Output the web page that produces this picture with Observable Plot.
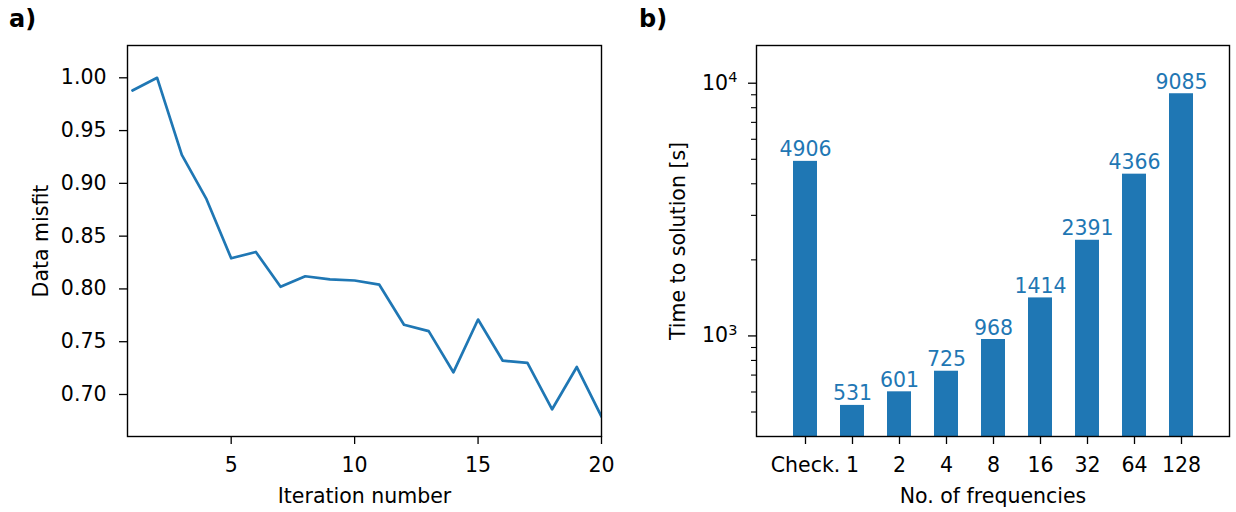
<!DOCTYPE html>
<html><head><meta charset="utf-8">
<script src="https://cdn.jsdelivr.net/npm/d3@7"></script>
<script src="https://cdn.jsdelivr.net/npm/@observablehq/plot@0.6"></script>
<style>
html,body{margin:0;padding:0;background:#fff;}
#wrap{position:relative;width:1236px;height:512px;overflow:hidden;font-family:"DejaVu Sans";}
.panel{position:absolute;top:0;}
.tag{position:absolute;font-family:"DejaVu Sans";font-weight:bold;font-size:24px;line-height:1;color:#000;}
</style></head><body>
<div id="wrap">
  <div id="left" class="panel" style="left:0px"></div>
  <div id="right" class="panel" style="left:620px"></div>
  <div class="tag" style="left:9px;top:7px">a)</div>
  <div class="tag" style="left:639px;top:7px">b)</div>
</div>
<script>
// ---- Panel a) data ----
const iterations = [1,2,3,4,5,6,7,8,9,10,11,12,13,14,15,16,17,18,19,20];
const misfit = [0.988,1.000,0.927,0.885,0.829,0.835,0.802,0.812,0.809,0.808,0.804,0.766,0.760,0.721,0.771,0.732,0.730,0.686,0.726,0.679];
const misfitTicks = [0.70,0.75,0.80,0.85,0.90,0.95,1.00];
const iterTicks = [5,10,15,20];

// ---- Panel b) data ----
const freqLabels = ["Check.","1","2","4","8","16","32","64","128"];
const times = [4906,531,601,725,968,1414,2391,4366,9085];
const timeMajorTicks = [1000,10000];
const timeMajorExponents = ["3","4"];
const timeMinorTicks = [500,600,700,800,900,2000,3000,4000,5000,6000,7000,8000,9000];
const timeFloor = 400;
const timeCeil = 14100;

const blue = "#1f77b4";
const FS = 20.5;
const baseStyle = {fontFamily:"DejaVu Sans", fontSize: FS + "px", color:"#000", background:"transparent", overflow:"visible"};

const lineData = iterations.map((it, i) => ({it, v: misfit[i]}));
const left = Plot.plot({
  width: 620, height: 512,
  marginLeft: 127, marginRight: 19, marginTop: 45, marginBottom: 76,
  style: baseStyle,
  x: {domain: [0.8, 20]},
  y: {domain: [0.6602, 1.0306]},
  marks: [
    Plot.line(lineData, {x: "it", y: "v", stroke: blue, strokeWidth: 2.7, clip: true}),
    Plot.axisY(misfitTicks, {tickSize: 8, tickPadding: 13, strokeWidth: 1.3, fontSize: FS,
      tickFormat: d3.format(".2f"), label: "Data misfit", labelArrow: "none", labelAnchor: "center", labelOffset: 94}),
    Plot.axisX(iterTicks, {tickSize: 8, tickPadding: 13.4, strokeWidth: 1.3, fontSize: FS,
      tickFormat: d => String(d), label: "Iteration number", labelArrow: "none", labelAnchor: "center", labelOffset: 66}),
    Plot.frame({stroke: "#000", strokeWidth: 1.4})
  ]
});
document.getElementById("left").appendChild(left);

const barData = freqLabels.map((f, i) => ({f, t: times[i]}));
const expData = timeMajorTicks.map((t, i) => ({t, e: timeMajorExponents[i]}));
const right = Plot.plot({
  width: 616, height: 512,
  marginLeft: 136, marginRight: 7, marginTop: 45, marginBottom: 76,
  style: baseStyle,
  x: {type: "band", domain: freqLabels, paddingInner: 0.5, paddingOuter: 0.75},
  y: {type: "log", domain: [timeFloor, timeCeil]},
  marks: [
    Plot.barY(barData, {x: "f", y1: timeFloor, y2: "t", fill: blue}),
    Plot.text(barData, {x: "f", y: "t", text: d => String(d.t), fill: blue, fontSize: FS, lineAnchor: "bottom", dy: -5}),
    Plot.axisY(timeMinorTicks, {tickSize: 5, strokeWidth: 1.1, tickFormat: () => "", label: null}),
    Plot.axisY(timeMajorTicks, {tickSize: 8, tickPadding: 20.5, strokeWidth: 1.3, fontSize: FS,
      tickFormat: () => "10",
      label: "Time to solution [s]", labelArrow: "none", labelAnchor: "center", labelOffset: 86}),
    Plot.text(expData, {y: "t", text: "e", frameAnchor: "left", textAnchor: "end", dx: -19, dy: -6, fontSize: 14.5, fill: "#000"}),
    Plot.axisX({tickSize: 8, tickPadding: 13.4, strokeWidth: 1.3, fontSize: FS,
      label: "No. of frequencies", labelArrow: "none", labelAnchor: "center", labelOffset: 66}),
    Plot.frame({stroke: "#000", strokeWidth: 1.4})
  ]
});
document.getElementById("right").appendChild(right);
</script>
</body></html>
